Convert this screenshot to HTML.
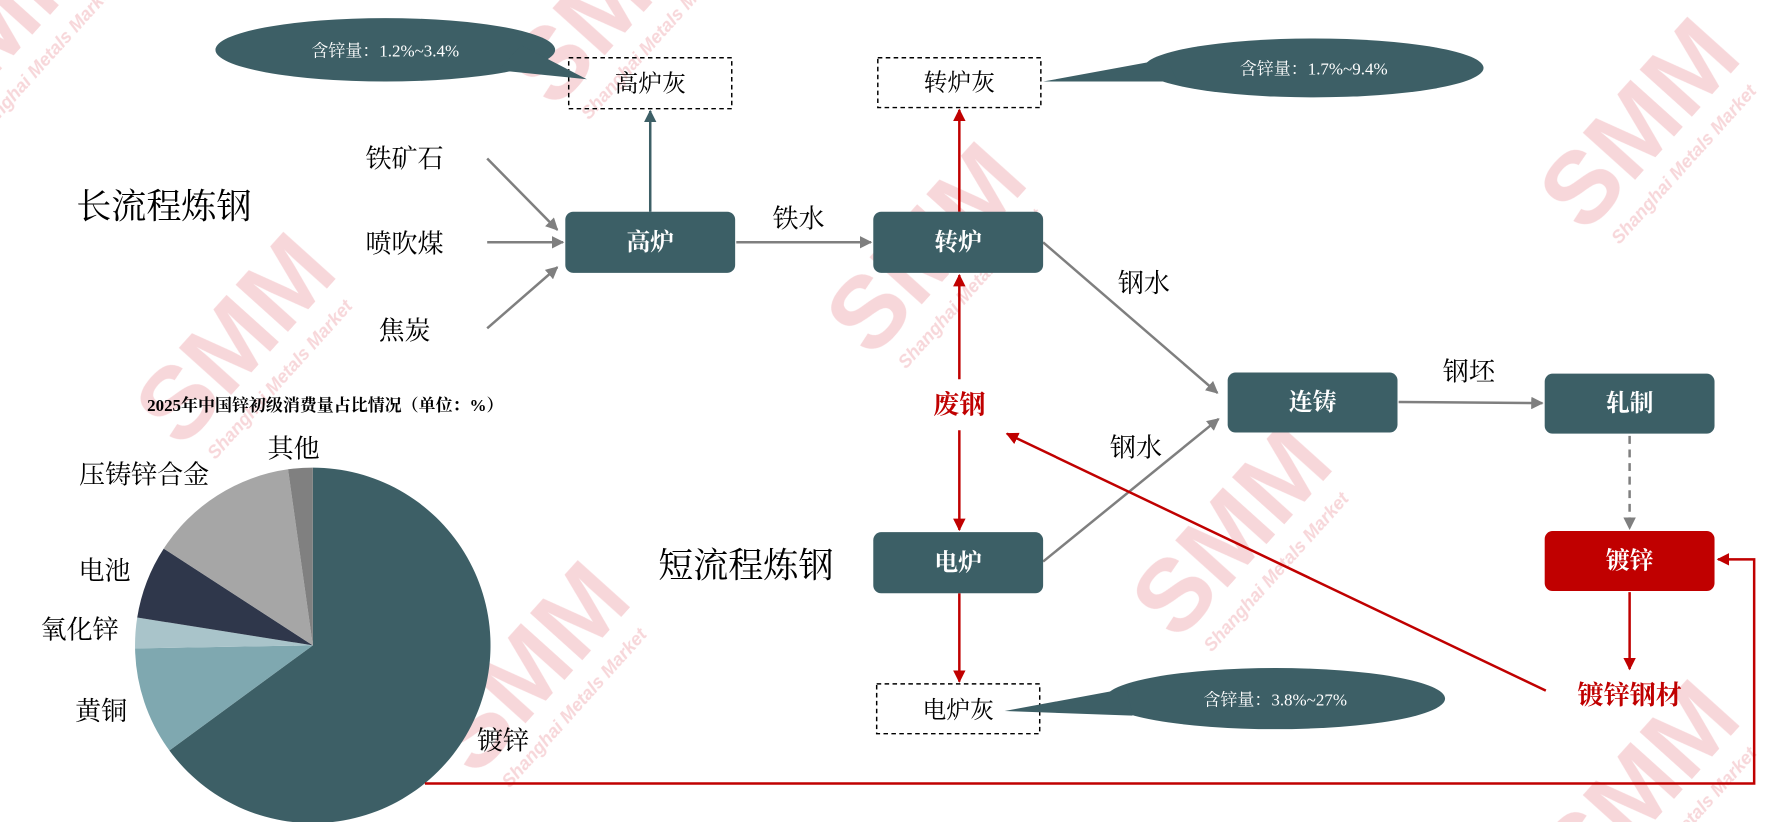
<!DOCTYPE html>
<html><head><meta charset="utf-8"><style>html,body{margin:0;padding:0;background:#fff;width:1776px;height:822px;overflow:hidden;position:relative}svg{display:block;position:absolute;left:0;top:0;overflow:hidden}</style></head>
<body>
<svg width="1776" height="822" viewBox="0 0 1568 726" xmlns="http://www.w3.org/2000/svg" font-family="'Liberation Serif','Noto Serif CJK SC',serif">
<defs>
<clipPath id="cp"><rect x="0" y="0" width="1568" height="726"/></clipPath>
<marker id="ag" viewBox="0 0 10 10" refX="9" refY="5" markerWidth="5" markerHeight="5" orient="auto"><path d="M0,0L10,5L0,10z" fill="#7f7f7f"/></marker>
<marker id="ar" viewBox="0 0 10 10" refX="9" refY="5" markerWidth="5" markerHeight="5" orient="auto"><path d="M0,0L10,5L0,10z" fill="#c00000"/></marker>
<marker id="at" viewBox="0 0 10 10" refX="9" refY="5" markerWidth="5" markerHeight="5" orient="auto"><path d="M0,0L10,5L0,10z" fill="#3d5f66"/></marker>
<g id="wm" fill="#f6cdd1" font-family="'Liberation Sans',sans-serif" font-weight="bold"><text x="0" y="0" font-size="90" text-anchor="middle">SMM</text><text x="0" y="28" font-size="16" text-anchor="middle" font-style="italic">Shanghai Metals Market</text></g>
</defs>
<g clip-path="url(#cp)">
<g opacity="0.8">
<use href="#wm" transform="translate(20,40) rotate(-48)"/>
<use href="#wm" transform="translate(560,20) rotate(-48)"/>
<use href="#wm" transform="translate(840,240) rotate(-48)"/>
<use href="#wm" transform="translate(1470,130) rotate(-48)"/>
<use href="#wm" transform="translate(230,320) rotate(-48)"/>
<use href="#wm" transform="translate(490,610) rotate(-48)"/>
<use href="#wm" transform="translate(1110,490) rotate(-48)"/>
<use href="#wm" transform="translate(1470,715) rotate(-48)"/>
</g>

<g>
<path d="M276,570 L276,413 A157,157 0 1 1 149.3,662.8 Z" fill="#3d5f66"/>
<path d="M276,570 L149.3,662.8 A157,157 0 0 1 119,572.7 Z" fill="#7fa8b0"/>
<path d="M276,570 L119,572.7 A157,157 0 0 1 120.9,545.4 Z" fill="#a9c4ca"/>
<path d="M276,570 L120.9,545.4 A157,157 0 0 1 144.3,484.5 Z" fill="#2f374b"/>
<path d="M276,570 L144.3,484.5 A157,157 0 0 1 254.1,414.5 Z" fill="#a6a6a6"/>
<path d="M276,570 L254.1,414.5 A157,157 0 0 1 276,413 Z" fill="#808080"/>
</g>
</g>
<g font-size="23" fill="#000">
<text x="259" y="404" text-anchor="middle">其他</text>
<text x="127" y="427" text-anchor="middle">压铸锌合金</text>
<text x="92" y="512" text-anchor="middle">电池</text>
<text x="70" y="564" text-anchor="middle">氧化锌</text>
<text x="89" y="636" text-anchor="middle">黄铜</text>
<text x="444" y="662" text-anchor="middle">镀锌</text>
</g>
<text x="287" y="363" font-size="15" font-weight="bold" text-anchor="middle">2025年中国锌初级消费量占比情况（单位：%）</text>

<text x="67" y="193" font-size="31">长流程炼钢</text>
<text x="581" y="510" font-size="31">短流程炼钢</text>

<g font-size="23" text-anchor="middle">
<text x="357" y="148">铁矿石</text>
<text x="357" y="223">喷吹煤</text>
<text x="357" y="300">焦炭</text>
<text x="705" y="201">铁水</text>
<text x="1010" y="258">钢水</text>
<text x="1003" y="403">钢水</text>
<text x="1297" y="336">钢坯</text>
</g>
<g stroke="#7f7f7f" stroke-width="2.2" fill="none" marker-end="url(#ag)">
<line x1="430" y1="140" x2="492" y2="203"/>
<line x1="430" y1="214" x2="497" y2="214"/>
<line x1="430" y1="290" x2="492" y2="236"/>
<line x1="650" y1="214" x2="769" y2="214"/>
<line x1="921" y1="214" x2="1075" y2="347"/>
<line x1="921" y1="496" x2="1076" y2="370"/>
<line x1="1235" y1="355" x2="1362" y2="356"/>
<line x1="1439" y1="385" x2="1439" y2="467" stroke-dasharray="7,5"/>
</g>
<line x1="574" y1="187" x2="574" y2="98" stroke="#3d5f66" stroke-width="2.2" marker-end="url(#at)"/>

<g stroke="#c00000" stroke-width="2.2" fill="none" marker-end="url(#ar)">
<line x1="847" y1="187" x2="847" y2="97"/>
<line x1="847" y1="335" x2="847" y2="243"/>
<line x1="847" y1="380" x2="847" y2="468"/>
<line x1="847" y1="524" x2="847" y2="602"/>
<line x1="1439" y1="523" x2="1439" y2="591"/>
<line x1="1365" y1="610" x2="889" y2="383"/>
<polyline points="375,692 1549,692 1549,494 1517,494"/>
</g>

<g fill="#3c5f66">
<rect x="499" y="187" width="150" height="54" rx="7"/>
<rect x="771" y="187" width="150" height="54" rx="7"/>
<rect x="1084" y="329" width="150" height="53" rx="7"/>
<rect x="1364" y="330" width="150" height="53" rx="7"/>
<rect x="771" y="470" width="150" height="54" rx="7"/>
</g>
<rect x="1364" y="469" width="150" height="53" rx="7" fill="#c00000"/>
<g font-size="21" fill="#fff" font-weight="bold" text-anchor="middle">
<text x="574" y="221">高炉</text>
<text x="846" y="221">转炉</text>
<text x="1159" y="362">连铸</text>
<text x="1439" y="363">轧制</text>
<text x="846" y="504">电炉</text>
<text x="1439" y="502">镀锌</text>
</g>
<g font-size="23" fill="#c00000" font-weight="bold" text-anchor="middle">
<text x="847" y="365">废钢</text>
<text x="1439" y="622">镀锌钢材</text>
</g>

<g fill="none" stroke="#000" stroke-width="1.3" stroke-dasharray="4,3">
<rect x="502" y="51" width="144" height="45"/>
<rect x="775" y="51" width="144" height="44"/>
<rect x="774" y="604" width="144" height="44"/>
</g>
<g font-size="21" text-anchor="middle">
<text x="574" y="81">高炉灰</text>
<text x="847" y="80">转炉灰</text>
<text x="846" y="634">电炉灰</text>
</g>

<g fill="#3d5f66">
<ellipse cx="340" cy="44" rx="150" ry="28"/><path d="M440,62 L518,70 L460,40 Z"/>
<ellipse cx="1160" cy="60" rx="150" ry="26"/><path d="M1030,52 L921,72 L1040,72 Z"/>
<ellipse cx="1126" cy="617" rx="150" ry="27"/><path d="M995,608 L887,628 L1000,632 Z"/>
</g>
<g font-size="15" fill="#fff" text-anchor="middle">
<text x="340" y="50">含锌量：1.2%~3.4%</text>
<text x="1160" y="66">含锌量：1.7%~9.4%</text>
<text x="1126" y="623">含锌量：3.8%~27%</text>
</g>
</svg>
</body></html>
